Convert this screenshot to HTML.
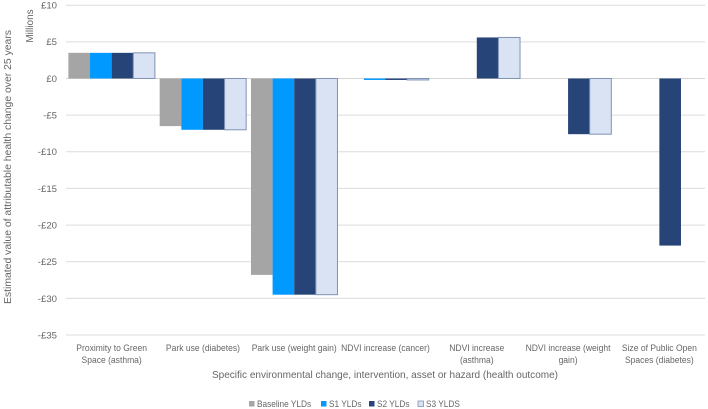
<!DOCTYPE html>
<html lang="en">
<head>
<meta charset="utf-8">
<title>Estimated value of attributable health change</title>
<style>
html,body{margin:0;padding:0;background:#fff;width:708px;height:409px;overflow:hidden}
svg{display:block;font-family:"Liberation Sans",sans-serif;fill:#666;filter:blur(0.35px)}
text{font-size:9.6px}
</style>
</head>
<body>
<svg id="chart" width="708" height="409" viewBox="0 0 708 409" xmlns="http://www.w3.org/2000/svg">
<g id="grid"></g>
<g id="yticks"></g>
<g id="bars"></g>
<g id="xticks"></g>
<text transform="translate(11,167) rotate(-90)" text-anchor="middle" style="font-size:10px" textLength="274" lengthAdjust="spacingAndGlyphs">Estimated value of  attributable health change over 25 years</text>
<text transform="translate(33,26) rotate(-90)" text-anchor="middle" style="font-size:10px">Millions</text>
<text x="385" y="378" text-anchor="middle" style="font-size:10.4px" textLength="346" lengthAdjust="spacingAndGlyphs">Specific environmental change, intervention, asset or hazard (health outcome)</text>
<g id="legend"></g>
</svg>
<script>
const categories = [
  ["Proximity to Green", "Space (asthma)"],
  ["Park use (diabetes)"],
  ["Park use (weight gain)"],
  ["NDVI increase (cancer)"],
  ["NDVI increase", "(asthma)"],
  ["NDVI increase (weight", "gain)"],
  ["Size of Public Open", "Spaces (diabetes)"]
];
const seriesNames = ["Baseline YLDs", "S1 YLDs", "S2 YLDs", "S3 YLDS"];
const baselineValues = [3.5, -6.5, -26.8, 0, 0, 0, 0];
const s1Values = [3.5, -7.0, -29.5, -0.2, 0, 0, 0];
const s2Values = [3.5, -7.0, -29.5, -0.2, 5.6, -7.6, -22.8];
const s3Values = [3.5, -7.0, -29.5, -0.2, 5.6, -7.6, 0];
const tickValues = [10, 5, 0, -5, -10, -15, -20, -25, -30, -35];

const seriesValues = [baselineValues, s1Values, s2Values, s3Values];
const fills = ["#a5a5a5", "#0099ff", "#264478", "#dae3f3"];
const strokes = ["none", "none", "none", "#7f93b5"];
const legendX = [249, 321, 369, 418];
const NS = "http://www.w3.org/2000/svg";
const plotLeft = 66, plotRight = 705, plotTop = 5.2, plotBottom = 335;
const yMax = 10, yMin = -35;

function yScale(v) {
  return plotTop + (yMax - v) / (yMax - yMin) * (plotBottom - plotTop);
}
function bandWidth() {
  return (plotRight - plotLeft) / categories.length;
}
function xBand(i) {
  return plotLeft + i * bandWidth();
}
function make(tag, attrs, parent, txt) {
  const el = document.createElementNS(NS, tag);
  for (const k in attrs) el.setAttribute(k, attrs[k]);
  if (txt !== undefined) el.textContent = txt;
  parent.appendChild(el);
  return el;
}
function squeeze(el, factor) {
  el.setAttribute("textLength", el.getComputedTextLength() * factor);
  el.setAttribute("lengthAdjust", "spacingAndGlyphs");
}

const gGrid = document.getElementById("grid");
const gTicks = document.getElementById("yticks");
const gBars = document.getElementById("bars");
const gX = document.getElementById("xticks");
const gLegend = document.getElementById("legend");

tickValues.forEach(function (t) {
  const y = yScale(t);
  const line = make("line", {x1: plotLeft, x2: plotRight, y1: y, y2: y, stroke: t === 0 ? "#d4d4d4" : "#dcdcdc", "stroke-width": 1}, gGrid);
  
  
  const label = (t < 0 ? "-" : "") + "£" + Math.abs(t);
  const tx = make("text", {x: 57, y: y + 3.4, "text-anchor": "end"}, gTicks, label);
  
  
});

const groupPad = 2.4;
seriesValues.forEach(function (vals, s) {
  vals.forEach(function (v, i) {
    if (v === 0) return;
    const w = (bandWidth() - 2 * groupPad) / seriesValues.length;
    const x = xBand(i) + groupPad + s * w;
    const y0 = yScale(0), y1 = yScale(v);
    const r = make("rect", {
      x: x, y: Math.min(y0, y1), width: w, height: Math.abs(y1 - y0),
      fill: fills[s], stroke: strokes[s], "stroke-width": strokes[s] === "none" ? 0 : 1
    }, gBars);
    
    
  });
});

categories.forEach(function (lines, i) {
  const cx = xBand(i) + bandWidth() / 2;
  lines.forEach(function (ln, k) {
    const t = make("text", {x: cx, y: 350.8 + k * 12, "text-anchor": "middle"}, gX, ln);
    
    
    squeeze(t, 0.89);
  });
});

seriesNames.forEach(function (name, s) {
  const sw = make("rect", {x: legendX[s], y: 401, width: 5.5, height: 5.5, fill: fills[s], stroke: strokes[s], "stroke-width": strokes[s] === "none" ? 0 : 0.8}, gLegend);
  
  
  const t = make("text", {x: legendX[s] + 8, y: 407, style: "font-size:9.2px"}, gLegend, name);
  
  
  squeeze(t, 0.9);
});
</script>
</body>
</html>
